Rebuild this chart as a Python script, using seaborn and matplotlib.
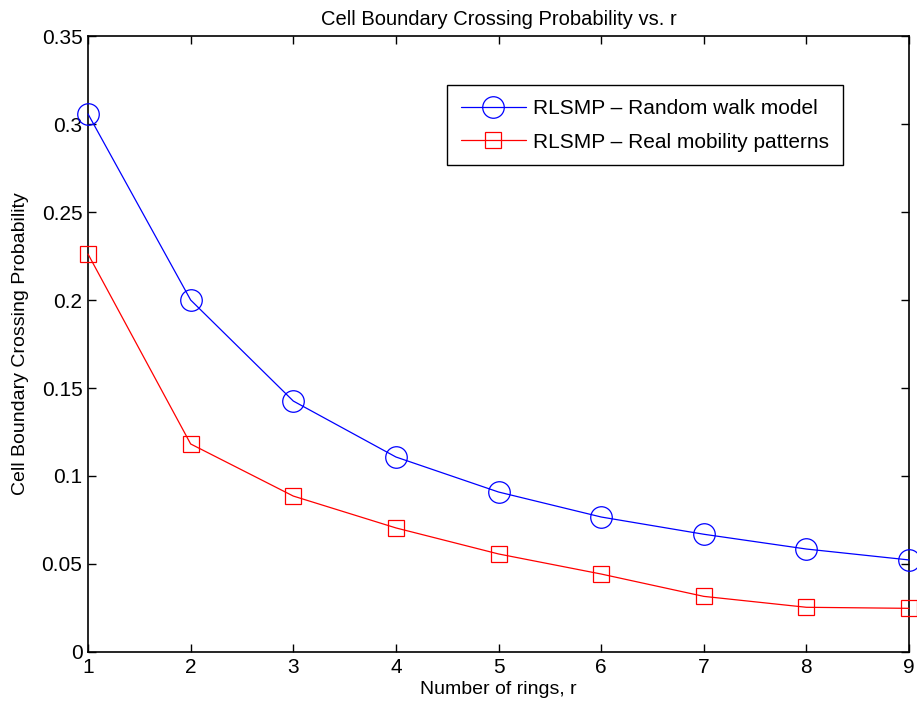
import matplotlib
matplotlib.use("Agg")
import matplotlib.pyplot as plt
import seaborn as sns
import pandas as pd

rings = [1, 2, 3, 4, 5, 6, 7, 8, 9]
random_walk = [0.3057, 0.2000, 0.1426, 0.1108, 0.0909, 0.0767, 0.0669, 0.0585, 0.0523]
real_mobility = [0.2261, 0.1182, 0.0886, 0.0705, 0.0557, 0.0443, 0.0316, 0.0254, 0.0248]
labels = ["RLSMP \u2013 Random walk model", "RLSMP \u2013 Real mobility patterns"]
yticks = [0, 0.05, 0.1, 0.15, 0.2, 0.25, 0.3, 0.35]
ytick_labels = ["0", "0.05", "0.1", "0.15", "0.2", "0.25", "0.3", "0.35"]

sns.set_style("white")
plt.rcParams['font.family'] = ['Liberation Sans', 'DejaVu Sans']
plt.rcParams['text.color'] = 'black'
plt.rcParams['axes.labelcolor'] = 'black'

df = pd.DataFrame({
    "r": rings * 2,
    "p": random_walk + real_mobility,
    "series": [labels[0]] * len(rings) + [labels[1]] * len(rings),
})

fig = plt.figure(figsize=(9.17, 7.05), dpi=100)
ax = fig.add_axes([0.0960, 0.0752, 0.8953, 0.8737])

styles = [("blue", "o", 15.5), ("red", "s", 11.7)]
for lab, (c, m, ms) in zip(labels, styles):
    sub = df[df["series"] == lab]
    sns.lineplot(data=sub, x="r", y="p", ax=ax, color=c, marker=m, markersize=ms,
                 markerfacecolor="none", markeredgecolor=c, markeredgewidth=0.9,
                 linewidth=0.9, label=lab, clip_on=False, zorder=3)

ax.set_xlim(1, 9)
ax.set_ylim(0, 0.35)
ax.set_xticks(rings)
ax.set_xticklabels([str(r) for r in rings])
ax.set_yticks(yticks)
ax.set_yticklabels(ytick_labels)
ax.tick_params(direction="in", length=5.5, width=1, labelsize=15, top=True, right=True,
               bottom=True, left=True, colors="black", pad=4)
for s in ax.spines.values():
    s.set_visible(True)
    s.set_color("black")
    s.set_linewidth(1.2)

ax.set_xlabel("Number of rings, r", fontsize=14, labelpad=3)
ax.set_ylabel("Cell Boundary Crossing Probability", fontsize=14, labelpad=9)
ax.set_title("Cell Boundary Crossing Probability vs. r", fontsize=14.5, pad=8)

leg = ax.legend(loc="upper right", bbox_to_anchor=(0.9196, 0.9205), borderaxespad=0,
                fontsize=15, frameon=True, fancybox=False, edgecolor="black", framealpha=1,
                handlelength=3.1, handletextpad=0.35, borderpad=0.67, labelspacing=0.7)
leg.get_frame().set_linewidth(1.0)

fig.savefig("out.png", dpi=100)
